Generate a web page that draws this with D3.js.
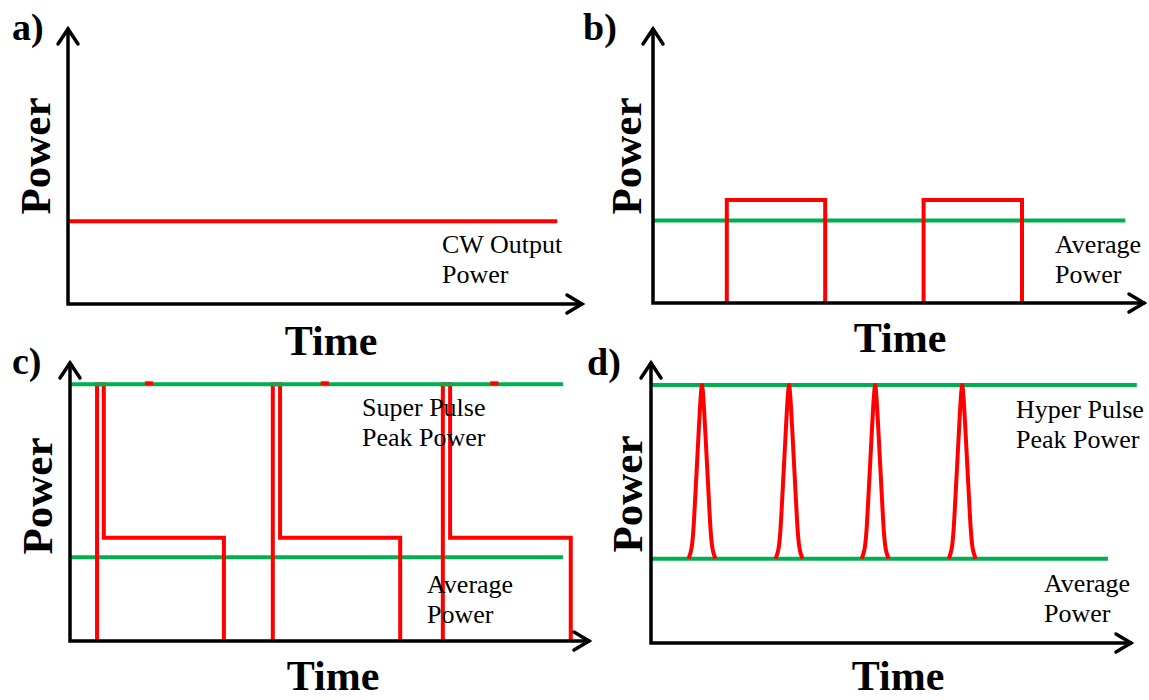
<!DOCTYPE html>
<html>
<head>
<meta charset="utf-8">
<script src="https://cdn.jsdelivr.net/npm/d3@7"></script>
<style>
  body { margin: 0; background: #fff; }
  svg { display: block; }
</style>
</head>
<body>
<svg id="chart" width="1149" height="700"></svg>
<script>
// Values, in arbitrary units: time 0..100, power 0..100

// a) continuous wave
var cwLevel = 30;
var cwEnd = 95;

// b) pulsed, square pulses
var bAverage = 30;
var bAverageEnd = 96;
var bPulseHeight = 37.5;
var bPulses = [[15, 35], [55, 75]];   // [rise, fall]

// c) super pulse: spike to peak, then a plateau
var cPeak = 92;
var cAverage = 30;
var cPlateau = 37;
var cLineEnd = 94.8;
var cPulses = [[5.2, 6.5, 29.6], [39, 40.4, 63.5], [71.7, 73.1, 96.3]];  // [spike up, spike down, fall]
var cGlitches = [[14.4, 16], [48.2, 49.8], [80.8, 82.4]];               // short red ticks on the peak line

// d) hyper pulse: narrow peaks
var dPeak = 91.8;
var dAverage = 30;
var dPeakLineEnd = 101;
var dAverageEnd = 95;
var dPeakTimes = [10.6, 28.7, 46.6, 64.7];
// one peak profile: [time offset, power]
var dProfile = [[-2.8, 30], [-2.4, 32], [-2.1, 34.5], [-1.8, 40], [-1.4, 52], [-1.0, 65], [-0.6, 78], [-0.25, 88], [0, 91.8],
                [0.25, 88], [0.6, 78], [1.0, 65], [1.4, 52], [1.8, 40], [2.1, 34.5], [2.4, 32], [2.8, 30]];

var panelLetters = ["a)", "b)", "c)", "d)"];
var notes = {
  a: [["CW Output", "Power"]],
  b: [["Average", "Power"]],
  c: [["Super Pulse", "Peak Power"], ["Average", "Power"]],
  d: [["Hyper Pulse", "Peak Power"], ["Average", "Power"]]
};

var RED = "#ff0000", GREEN = "#00b050";
var serif = "'Liberation Serif', 'Times New Roman', serif";

var svg = d3.select("#chart");

// panel frames: axis origin, axis ends
var panels = [
  { key: "a", x0: 68,  x1: 583,  y0: 304, y1: 28 },
  { key: "b", x0: 653, x1: 1145, y0: 303, y1: 28 },
  { key: "c", x0: 70,  x1: 590,  y0: 641, y1: 362 },
  { key: "d", x0: 651, x1: 1132, y0: 643, y1: 362 }
];

var line = d3.line().x(d => d[0]).y(d => d[1]);

function drawAxes(g, p) {
  var ax = 3.5;
  g.append("path")
    .attr("d", line([[p.x0, p.y1], [p.x0, p.y0], [p.x1, p.y0]]))
    .attr("fill", "none").attr("stroke", "#000").attr("stroke-width", ax)
    .attr("stroke-linejoin", "miter");
  // chevron heads
  g.append("path")
    .attr("d", line([[p.x0 - 10, p.y1 + 16], [p.x0, p.y1 + 1], [p.x0 + 10, p.y1 + 16]]))
    .attr("fill", "none").attr("stroke", "#000").attr("stroke-width", ax)
    .attr("stroke-linecap", "round");
  g.append("path")
    .attr("d", line([[p.x1 - 16, p.y0 - 9], [p.x1 - 1, p.y0], [p.x1 - 16, p.y0 + 9]]))
    .attr("fill", "none").attr("stroke", "#000").attr("stroke-width", ax)
    .attr("stroke-linecap", "round");
}

function hline(g, x, y, t0, t1, level, color) {
  g.append("path")
    .attr("d", line([[x(t0), y(level)], [x(t1), y(level)]]))
    .attr("fill", "none").attr("stroke", color).attr("stroke-width", 4);
}

function redPath(g, pts) {
  g.append("path")
    .attr("d", line(pts))
    .attr("fill", "none").attr("stroke", RED).attr("stroke-width", 4)
    .attr("stroke-linejoin", "miter");
}

panels.forEach(function(p, i) {
  var g = svg.append("g");
  var x = d3.scaleLinear().domain([0, 100]).range([p.x0, p.x1]);
  var y = d3.scaleLinear().domain([0, 100]).range([p.y0, p.y1]);

  if (p.key === "a") {
    hline(g, x, y, 0, cwEnd, cwLevel, RED);
  }
  if (p.key === "b") {
    hline(g, x, y, 0, bAverageEnd, bAverage, GREEN);
    bPulses.forEach(function(d) {
      redPath(g, [[x(d[0]), y(0)], [x(d[0]), y(bPulseHeight)], [x(d[1]), y(bPulseHeight)], [x(d[1]), y(0)]]);
    });
  }
  if (p.key === "c") {
    hline(g, x, y, 0, cLineEnd, cAverage, GREEN);
    cPulses.forEach(function(d) {
      redPath(g, [[x(d[0]), y(0)], [x(d[0]), y(cPeak)], [x(d[1]), y(cPeak)],
                  [x(d[1]), y(cPlateau)], [x(d[2]), y(cPlateau)], [x(d[2]), y(0)]]);
    });
    hline(g, x, y, 0, cLineEnd, cPeak, GREEN);
    cGlitches.forEach(function(d) {
      g.append("path")
        .attr("d", line([[x(d[0]), y(cPeak) - 1], [x(d[1]), y(cPeak) - 1]]))
        .attr("stroke", RED).attr("stroke-width", 4);
    });
  }
  if (p.key === "d") {
    hline(g, x, y, 0, dPeakLineEnd, dPeak, GREEN);
    hline(g, x, y, 0, dAverageEnd, dAverage, GREEN);
    var peakLine = d3.line().x(d => x(d[0])).y(d => y(d[1])).curve(d3.curveMonotoneX);
    dPeakTimes.forEach(function(t) {
      g.append("path")
        .attr("d", peakLine(dProfile.map(q => [t + q[0], q[1]])))
        .attr("fill", "none").attr("stroke", RED).attr("stroke-width", 4)
        .attr("stroke-linejoin", "round");
    });
  }

  drawAxes(g, p);
});

// panel letters
var letterPos = [[12, 40], [583, 40], [12, 374], [587, 375]];
panelLetters.forEach(function(t, i) {
  svg.append("text").attr("x", letterPos[i][0]).attr("y", letterPos[i][1])
    .attr("font-family", serif).attr("font-weight", "bold").attr("font-size", 38)
    .text(t);
});

// axis titles
var powerPos = [[50, 156], [641, 156], [52, 496], [642, 494]];
powerPos.forEach(function(d) {
  svg.append("text")
    .attr("transform", "translate(" + d[0] + "," + d[1] + ") rotate(-90)")
    .attr("text-anchor", "middle")
    .attr("font-family", serif).attr("font-weight", "bold").attr("font-size", 43)
    .text("Power");
});
var timePos = [[331, 355], [900, 352], [333, 690], [898, 690]];
timePos.forEach(function(d) {
  svg.append("text").attr("x", d[0]).attr("y", d[1])
    .attr("text-anchor", "middle")
    .attr("font-family", serif).attr("font-weight", "bold").attr("font-size", 42)
    .text("Time");
});

// annotations
var notePos = {
  a: [[442, 253]],
  b: [[1055, 253]],
  c: [[362, 416], [427, 593]],
  d: [[1016, 418], [1044, 592]]
};
Object.keys(notes).forEach(function(k) {
  notes[k].forEach(function(lines, j) {
    var pos = notePos[k][j];
    var t = svg.append("text")
      .attr("font-family", serif).attr("font-size", 26);
    lines.forEach(function(s, n) {
      t.append("tspan").attr("x", pos[0]).attr("y", pos[1] + n * 30).text(s);
    });
  });
});
</script>
</body>
</html>
